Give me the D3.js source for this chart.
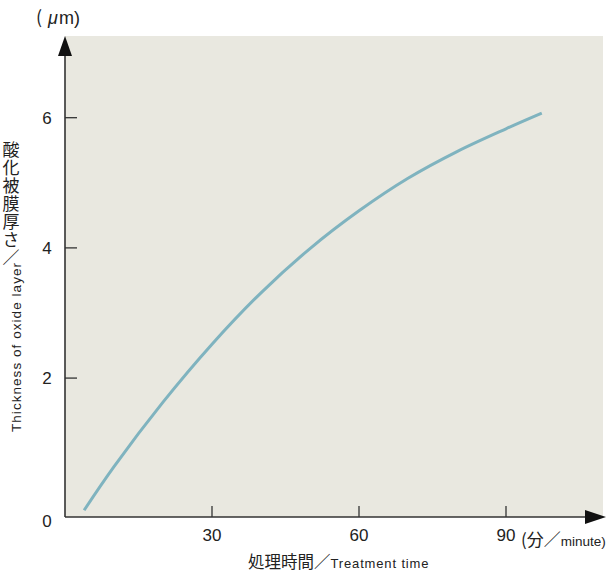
<!DOCTYPE html>
<html><head><meta charset="utf-8">
<script src="https://cdn.jsdelivr.net/npm/d3@7"></script>
<style>
html,body{margin:0;padding:0;background:#fff;}
text{font-family:"Liberation Sans","Noto Sans CJK JP",Arial,sans-serif;fill:#222;}
.cjk{font-family:"Noto Sans CJK JP",sans-serif;}
</style></head>
<body>
<svg id="c" width="611" height="573"></svg>
<script>
// data
const timeMin = [3.9, 10, 20, 30, 40, 50, 60, 70, 80, 90, 97.3];
const thickness = [-0.03, 0.64, 1.63, 2.52, 3.31, 3.99, 4.57, 5.07, 5.48, 5.83, 6.07];
const xTicks = [30, 60, 90];
const yTicks = [2, 4, 6];
const yTitleJa = "酸化被膜厚さ／";
const yTitleEn = "Thickness of oxide layer";
const xTitleJa = "処理時間／";
const xTitleEn = "Treatment time";
const xUnitJa = "(分／";
const xUnitEn = "minute)";

const svg = d3.select("#c");
const x0 = 65, x1 = 603, yTop = 36, yBot = 517;
const x = d3.scaleLinear().domain([0, (x1 - x0) / 4.9]).range([x0, x1]);
const y = d3.scaleLinear().domain([-0.134, 7.255]).range([yBot, yTop]);

svg.append("rect").attr("x", x0).attr("y", yTop).attr("width", x1 - x0).attr("height", yBot - yTop).attr("fill", "#e9e8e0");

const axCol = "#333";
svg.selectAll(".xt").data(xTicks).join("line")
  .attr("x1", d => x(d)).attr("x2", d => x(d)).attr("y1", yBot).attr("y2", yBot - 11)
  .attr("stroke", axCol).attr("stroke-width", 1.3);
svg.selectAll(".yt").data(yTicks).join("line")
  .attr("x1", x0).attr("x2", x0 + 12).attr("y1", d => y(d)).attr("y2", d => y(d))
  .attr("stroke", axCol).attr("stroke-width", 1.3);

// curve
const line = d3.line().x((d, i) => x(timeMin[i])).y(d => y(d)).curve(d3.curveCatmullRom.alpha(0.5));
svg.append("path").attr("d", line(thickness)).attr("fill", "none")
  .attr("stroke", "#7fb3bf").attr("stroke-width", 3);

// axes
svg.append("line").attr("x1", x0).attr("x2", x0).attr("y1", yBot).attr("y2", 50).attr("stroke", axCol).attr("stroke-width", 1.6);
svg.append("line").attr("x1", x0).attr("x2", 592).attr("y1", yBot).attr("y2", yBot).attr("stroke", axCol).attr("stroke-width", 1.6);
svg.append("path").attr("d", `M${x0},36 L${x0-7},56 L${x0+7},56 Z`).attr("fill", "#111");
svg.append("path").attr("d", `M606,${yBot} L585,${yBot-7} L585,${yBot+7} Z`).attr("fill", "#111");

// tick labels
svg.selectAll(".xl").data(xTicks).join("text")
  .attr("x", d => x(d)).attr("y", 541).attr("text-anchor", "middle").attr("font-size", 17).text(d => d);
svg.selectAll(".yl").data(yTicks).join("text")
  .attr("x", 47).attr("y", d => y(d) + 6).attr("text-anchor", "middle").attr("font-size", 17).text(d => d);
svg.append("text").attr("x", 47).attr("y", 527).attr("text-anchor", "middle").attr("font-size", 17).text("0");

// unit label (μm)
const ul = svg.append("text").attr("x", 36).attr("y", 24).attr("font-size", 18);
ul.append("tspan").attr("class", "cjk").text("(");
ul.append("tspan").attr("dx", 6).attr("font-style", "italic").text("μ");
ul.append("tspan").attr("dx", 1).text("m)");

// x unit
const xu = svg.append("text").attr("x", 521).attr("y", 546);
xu.append("tspan").attr("class", "cjk").attr("font-size", 17).text(xUnitJa);
xu.append("tspan").attr("font-size", 13.5).text(xUnitEn);

// x title
const xt = svg.append("text").attr("x", 248).attr("y", 568);
xt.append("tspan").attr("class", "cjk").attr("font-size", 16.5).text(xTitleJa);
xt.append("tspan").attr("font-size", 13).attr("textLength", 98).attr("lengthAdjust", "spacing").text(xTitleEn);

// y title: vertical Japanese + rotated English
svg.append("text").attr("class", "cjk").attr("font-size", 17)
  .attr("x", 11).attr("y", 141)
  .style("writing-mode", "vertical-rl").style("text-orientation", "upright")
  .attr("letter-spacing", 1).text(yTitleJa);
svg.append("text").attr("transform", "translate(21,432) rotate(-90)")
  .attr("font-size", 13.5).attr("textLength", 169).attr("lengthAdjust", "spacing").text(yTitleEn);
</script>
</body></html>
